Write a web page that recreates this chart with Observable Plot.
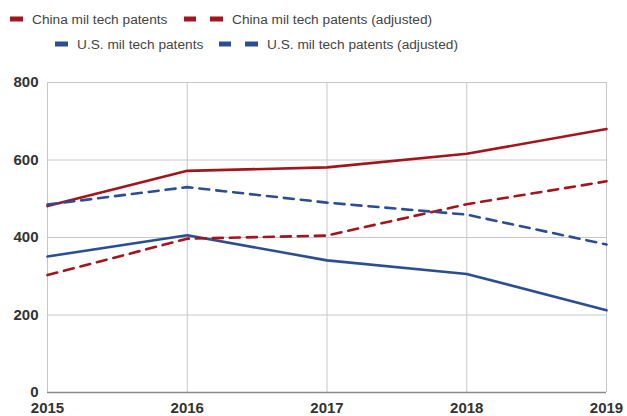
<!DOCTYPE html>
<html>
<head>
<meta charset="utf-8">
<script src="https://cdn.jsdelivr.net/npm/d3@7"></script>
<script src="https://cdn.jsdelivr.net/npm/@observablehq/plot@0.6"></script>
<style>
  body { margin: 0; background: #fff; font-family: "Liberation Sans", Arial, sans-serif; }
  #legend { position: relative; height: 60px; width: 627px; font-size: 13.7px; color: #444; }
  .item { position: absolute; display: flex; align-items: center; white-space: nowrap; }
  .item svg { margin-right: 9px; }
</style>
</head>
<body>
<div id="legend"></div>
<div id="chart"></div>
<script>
const years = [2015, 2016, 2017, 2018, 2019];
const chinaPatents = [481, 572, 581, 616, 680];
const chinaAdjusted = [303, 397, 405, 486, 545];
const usPatents = [351, 406, 341, 306, 212];
const usAdjusted = [485, 530, 490, 459, 382];
const seriesNames = [
  "China mil tech patents",
  "China mil tech patents (adjusted)",
  "U.S. mil tech patents",
  "U.S. mil tech patents (adjusted)"
];
const seriesValues = [chinaPatents, chinaAdjusted, usPatents, usAdjusted];
const seriesColors = ["#a3141c", "#a3141c", "#2b4e93", "#2b4e93"];
const seriesDashed = [false, true, false, true];
const yTicks = [0, 200, 400, 600, 800];

const data = seriesNames.flatMap((name, i) =>
  years.map((year, j) => ({ series: name, year, value: seriesValues[i][j], dashed: seriesDashed[i] }))
);

// Legend
const legendPos = [[10, 19], [184, 19], [55, 44], [219, 44]];
const legend = document.getElementById("legend");
seriesNames.forEach((name, i) => {
  const div = document.createElement("div");
  div.className = "item";
  const [lx, ly] = legendPos[i];
  div.style.left = lx + "px";
  div.style.top = (ly - 9) + "px";
  const w = seriesDashed[i] ? 39 : 13;
  const sw = d3.create("svg").attr("width", w).attr("height", 18);
  if (seriesDashed[i]) {
    sw.append("rect").attr("x", 0).attr("y", 6.5).attr("width", 12).attr("height", 5).attr("fill", seriesColors[i]);
    sw.append("rect").attr("x", 26).attr("y", 6.5).attr("width", 13).attr("height", 5).attr("fill", seriesColors[i]);
  } else {
    sw.append("rect").attr("x", 0).attr("y", 6.5).attr("width", 13).attr("height", 5).attr("fill", seriesColors[i]);
  }
  div.appendChild(sw.node());
  const span = document.createElement("span");
  span.textContent = name;
  div.appendChild(span);
  legend.appendChild(div);
});

const chart = Plot.plot({
  width: 627,
  height: 356,
  marginTop: 22,
  marginBottom: 24,
  marginLeft: 47,
  marginRight: 21,
  style: { fontFamily: "Liberation Sans, Arial, sans-serif", fontSize: "15px", fontWeight: "bold", color: "#333", background: "#fff" },
  x: { domain: [2015, 2019], ticks: years, tickFormat: d => String(d), label: null },
  y: { domain: [0, 800], ticks: yTicks, label: null },
  color: { domain: seriesNames, range: seriesColors },
  marks: [
    Plot.gridX(years, { x: d => d, stroke: "#c8c8c8", strokeOpacity: 1, strokeWidth: 1 }),
    Plot.gridY(yTicks, { y: d => d, stroke: "#c8c8c8", strokeOpacity: 1, strokeWidth: 1 }),
    Plot.ruleY([0], { stroke: "#8a8a8a", strokeWidth: 1.5 }),
    Plot.axisX(years, { x: d => d, tickSize: 0, tickPadding: 10, tickFormat: d => String(d), fill: "#333", fontWeight: "bold", fontSize: 15 }),
    Plot.axisY(yTicks, { y: d => d, tickSize: 0, tickPadding: 9, fill: "#333", fontWeight: "bold", fontSize: 15 }),
    Plot.line(data.filter(d => !d.dashed), { x: "year", y: "value", z: "series", stroke: "series", strokeWidth: 2.6 }),
    Plot.line(data.filter(d => d.dashed), { x: "year", y: "value", z: "series", stroke: "series", strokeWidth: 2.6, strokeDasharray: "10,7" })
  ]
});
document.getElementById("chart").appendChild(chart);
</script>
</body>
</html>
